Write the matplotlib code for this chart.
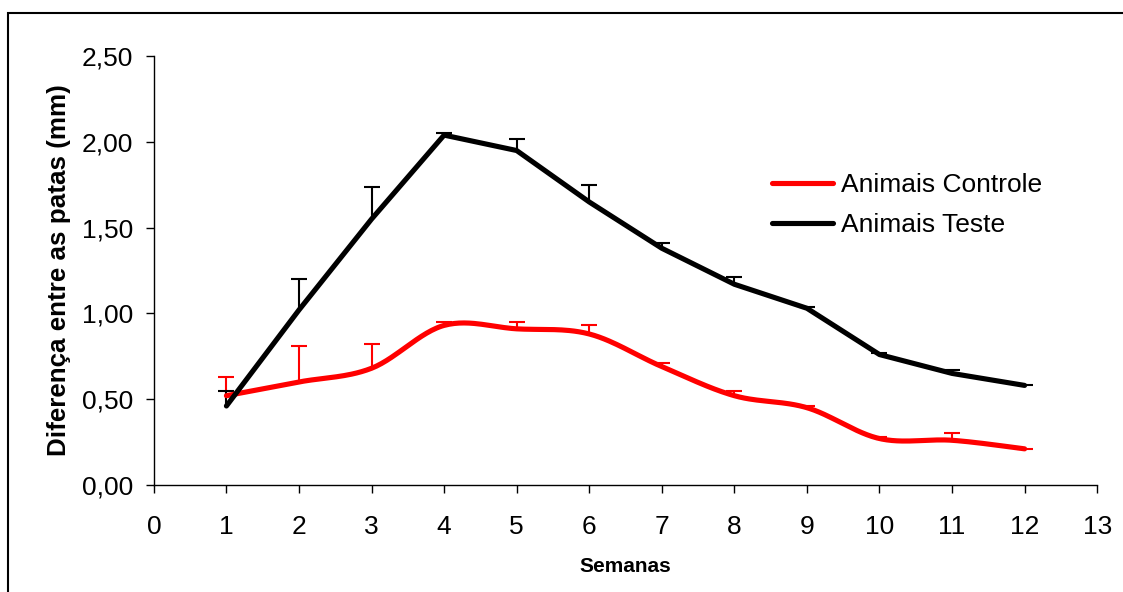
import numpy as np
import matplotlib.pyplot as plt
from matplotlib.patches import Rectangle

plt.rcParams['font.family'] = ['Liberation Sans', 'DejaVu Sans']

semanas = [1, 2, 3, 4, 5, 6, 7, 8, 9, 10, 11, 12]

controle = [0.52, 0.60, 0.68, 0.93, 0.91, 0.88, 0.69, 0.52, 0.45, 0.27, 0.26, 0.21]
controle_err = [0.11, 0.21, 0.14, 0.02, 0.04, 0.05, 0.02, 0.03, 0.01, 0.01, 0.04, 0.00]

teste = [0.46, 1.02, 1.55, 2.04, 1.95, 1.65, 1.38, 1.17, 1.03, 0.76, 0.65, 0.58]
teste_err = [0.09, 0.18, 0.19, 0.01, 0.07, 0.10, 0.03, 0.04, 0.01, 0.01, 0.02, 0.00]

yticks = [0.0, 0.5, 1.0, 1.5, 2.0, 2.5]
xticks = list(range(0, 14))


def smooth(x, y, n=30):
    # Catmull-Rom style bezier, like the "smoothed line" option in spreadsheets
    x = np.asarray(x, float)
    y = np.asarray(y, float)
    px = np.concatenate([[x[0]], x, [x[-1]]])
    py = np.concatenate([[y[0]], y, [y[-1]]])
    xs, ys = [], []
    t = np.linspace(0, 1, n)
    for i in range(1, len(px) - 2):
        p0 = np.array([px[i], py[i]])
        p3 = np.array([px[i + 1], py[i + 1]])
        p1 = p0 + (np.array([px[i + 1], py[i + 1]]) - np.array([px[i - 1], py[i - 1]])) / 6
        p2 = p3 - (np.array([px[i + 2], py[i + 2]]) - np.array([px[i], py[i]])) / 6
        b = ((1 - t) ** 3)[:, None] * p0 + (3 * (1 - t) ** 2 * t)[:, None] * p1 \
            + (3 * (1 - t) * t ** 2)[:, None] * p2 + (t ** 3)[:, None] * p3
        xs.extend(b[:, 0])
        ys.extend(b[:, 1])
    return xs, ys


fig = plt.figure(figsize=(11.23, 5.92), dpi=100)
ax = fig.add_axes([0.137, 0.181, 0.840, 0.724])

# upward-only error bars
for y, err, color in [(controle, controle_err, 'red'), (teste, teste_err, 'black')]:
    _, caps, _ = ax.errorbar(semanas, y, yerr=[np.zeros(len(err)), err], fmt='none',
                             ecolor=color, elinewidth=1.5, capsize=5.5, capthick=1.5, zorder=2)
    caps[0].set_visible(False)

sx, sy = smooth(semanas, controle)
ax.plot(sx, sy, color='red', lw=3.7, solid_capstyle='round', label='Animais Controle', zorder=3)
ax.plot(semanas, teste, color='black', lw=3.7, solid_capstyle='round',
        solid_joinstyle='round', label='Animais Teste', zorder=3)

ax.set_xlim(0, 13)
ax.set_ylim(0, 2.5)
ax.set_xticks(xticks)
ax.set_yticks(yticks)
ax.set_yticklabels([f"{v:.2f}".replace('.', ',') for v in yticks])
ax.tick_params(direction='out', length=6, width=1, labelsize=19)
ax.tick_params(axis='y', pad=9)
ax.tick_params(axis='x', pad=15.5)
for side in ['top', 'right']:
    ax.spines[side].set_visible(False)
for side in ['left', 'bottom']:
    ax.spines[side].set_linewidth(1)

ax.set_xlabel('Semanas', fontsize=15, fontweight='bold', labelpad=13.5)
ax.set_ylabel('Diferença entre as patas (mm)', fontsize=18.7, fontweight='bold', labelpad=8)

ax.legend(loc='upper left', bbox_to_anchor=(0.630, 0.783), frameon=False, fontsize=19,
          handlelength=2.3, handletextpad=0.3, labelspacing=0.6)

fig.add_artist(Rectangle((0.007, -0.1), 1.2, 1.078, transform=fig.transFigure,
                         fill=False, edgecolor='black', lw=1.5))

fig.savefig('out.png', dpi=100)
